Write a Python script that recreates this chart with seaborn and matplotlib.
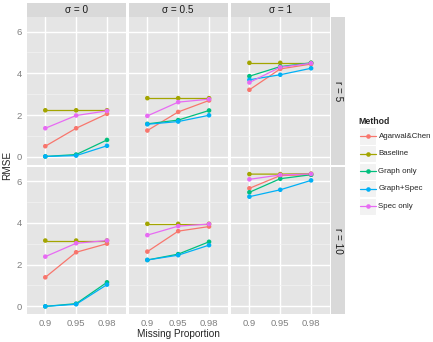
import numpy as np
import pandas as pd
import matplotlib
matplotlib.use("Agg")
import matplotlib.pyplot as plt
import seaborn as sns
from matplotlib.patches import Rectangle

# ---- data ----
methods = ["Agarwal&Chen", "Baseline", "Graph only", "Graph+Spec", "Spec only"]
missing = ["0.9", "0.95", "0.98"]
sigmas = ["0", "0.5", "1"]
ranks = ["5", "10"]

# [rank][sigma][missing]
agarwal_chen = [[[0.51, 1.37, 2.06], [1.26, 2.15, 2.70], [3.21, 4.21, 4.44]],
                [[1.39, 2.59, 3.00], [2.62, 3.60, 3.82], [5.65, 6.26, 6.30]]]
baseline = [[[2.23, 2.23, 2.23], [2.81, 2.81, 2.81], [4.50, 4.50, 4.50]],
            [[3.15, 3.15, 3.15], [3.95, 3.95, 3.95], [6.33, 6.33, 6.35]]]
graph_only = [[[0.02, 0.11, 0.81], [1.58, 1.76, 2.22], [3.86, 4.32, 4.50]],
              [[0.00, 0.13, 1.15], [2.22, 2.50, 3.09], [5.46, 6.11, 6.30]]]
graph_spec = [[[0.02, 0.06, 0.53], [1.56, 1.69, 1.99], [3.69, 3.93, 4.24]],
              [[0.00, 0.10, 1.04], [2.22, 2.45, 2.93], [5.25, 5.58, 6.03]]]
spec_only = [[[1.37, 1.98, 2.20], [1.96, 2.62, 2.76], [3.56, 4.29, 4.48]],
             [[2.38, 3.02, 3.15], [3.41, 3.84, 3.94], [6.08, 6.29, 6.34]]]

colors = ["#F8766D", "#A3A500", "#00BF7D", "#00B0F6", "#E76BF3"]

rows = []
for m, vals in zip(methods, [agarwal_chen, baseline, graph_only, graph_spec, spec_only]):
    for i, r in enumerate(ranks):
        for j, s in enumerate(sigmas):
            for k, p in enumerate(missing):
                rows.append(dict(Method=m, r=r, sigma=s, missing=p, xpos=k, RMSE=vals[i][j][k]))
df = pd.DataFrame(rows)

sns.set_style("white")
plt.rcParams["font.family"] = ["Liberation Sans", "DejaVu Sans"]

W, H = 433, 342
fig = plt.figure(figsize=(W / 100, H / 100), dpi=100)


def box(x0, y0, x1, y1):
    # pixel box (top-left origin) -> figure fraction
    return [x0 / W, 1 - y1 / H, (x1 - x0) / W, (y1 - y0) / H]


lefts = [26.8, 128.85, 230.9]
pw = 98.7
tops = [17.3, 166.8]
ph = 147.5
palette = dict(zip(methods, colors))
grey = "#7F7F7F"

for i, r in enumerate(ranks):
    for j, s in enumerate(sigmas):
        ax = fig.add_axes(box(lefts[j], tops[i], lefts[j] + pw, tops[i] + ph))
        ax.set_facecolor("#E5E5E5")
        for sp in ax.spines.values():
            sp.set_visible(False)
        sub = df[(df.r == r) & (df.sigma == s)]
        sns.lineplot(data=sub, x="xpos", y="RMSE", hue="Method", hue_order=methods,
                     palette=palette, legend=False, ax=ax, lw=0.9, zorder=3)
        sns.scatterplot(data=sub, x="xpos", y="RMSE", hue="Method", hue_order=methods,
                        palette=palette, legend=False, ax=ax, s=11, linewidth=0, zorder=4)
        ax.set_xlim(-0.6, 2.6)
        ax.set_ylim(-0.38, 6.68)
        ax.set_xticks(range(3))
        ax.set_yticks([0, 2, 4, 6])
        ax.set_yticks([1, 3, 5], minor=True)
        ax.grid(which="major", color="white", lw=1.0)
        ax.grid(which="minor", axis="y", color="#F2F2F2", lw=0.5)
        ax.set_axisbelow(True)
        ax.set_xlabel("")
        ax.set_ylabel("")
        ax.tick_params(which="minor", length=0)
        ax.tick_params(which="major", colors=grey, labelsize=6.8, length=2.2, width=0.6, pad=1.5)
        if i == 1:
            ax.set_xticklabels(missing)
        else:
            ax.tick_params(axis="x", length=0, labelbottom=False)
        if j == 0:
            ax.set_yticklabels(["0", "2", "4", "6"])
        else:
            ax.tick_params(axis="y", length=0, labelleft=False)

        # top strips
        if i == 0:
            sax = fig.add_axes(box(lefts[j], 3.3, lefts[j] + pw, 17.3))
            sax.set_facecolor("#D9D9D9")
            sax.set_xticks([]); sax.set_yticks([])
            for sp in sax.spines.values():
                sp.set_visible(False)
            sax.text(0.5, 0.5, "\u03c3 = " + s, ha="center", va="center", fontsize=7.2,
                     color="#1A1A1A", transform=sax.transAxes)
    # right strips
    rax = fig.add_axes(box(331.0, tops[i], 344.6, tops[i] + ph))
    rax.set_facecolor("#D9D9D9")
    rax.set_xticks([]); rax.set_yticks([])
    for sp in rax.spines.values():
        sp.set_visible(False)
    rax.text(0.5, 0.5, "r = " + r, ha="center", va="center", fontsize=7.2, rotation=-90,
             color="#1A1A1A", transform=rax.transAxes)

fig.text(7.5 / W, 1 - 165 / H, "RMSE", rotation=90, ha="center", va="center", fontsize=7.2)
fig.text(178 / W, 1 - 334 / H, "Missing Proportion", ha="center", va="center", fontsize=7.2)

# ---- legend, drawn in pixel coords on an overlay axes ----
lax = fig.add_axes([0, 0, 1, 1], facecolor="none")
lax.set_xlim(0, W)
lax.set_ylim(H, 0)
lax.axis("off")
lax.text(358.5, 121, "Method", fontsize=6.3, fontweight="bold", ha="left", va="center")
key_y = [136, 153.6, 171.2, 188.8, 206.4]
for m, c, y in zip(methods, colors, key_y):
    lax.add_patch(Rectangle((358.5, y - 8.6), 17.2, 17.2, facecolor="#F2F2F2",
                            edgecolor="white", lw=0.8))
    lax.plot([360, 375.5], [y, y], color=c, lw=0.9)
    lax.plot([367.7], [y], "o", color=c, markersize=3.3, markeredgewidth=0)
    lax.text(378.5, y, m, fontsize=5.7, ha="left", va="center")

fig.savefig("out.png", dpi=100)
